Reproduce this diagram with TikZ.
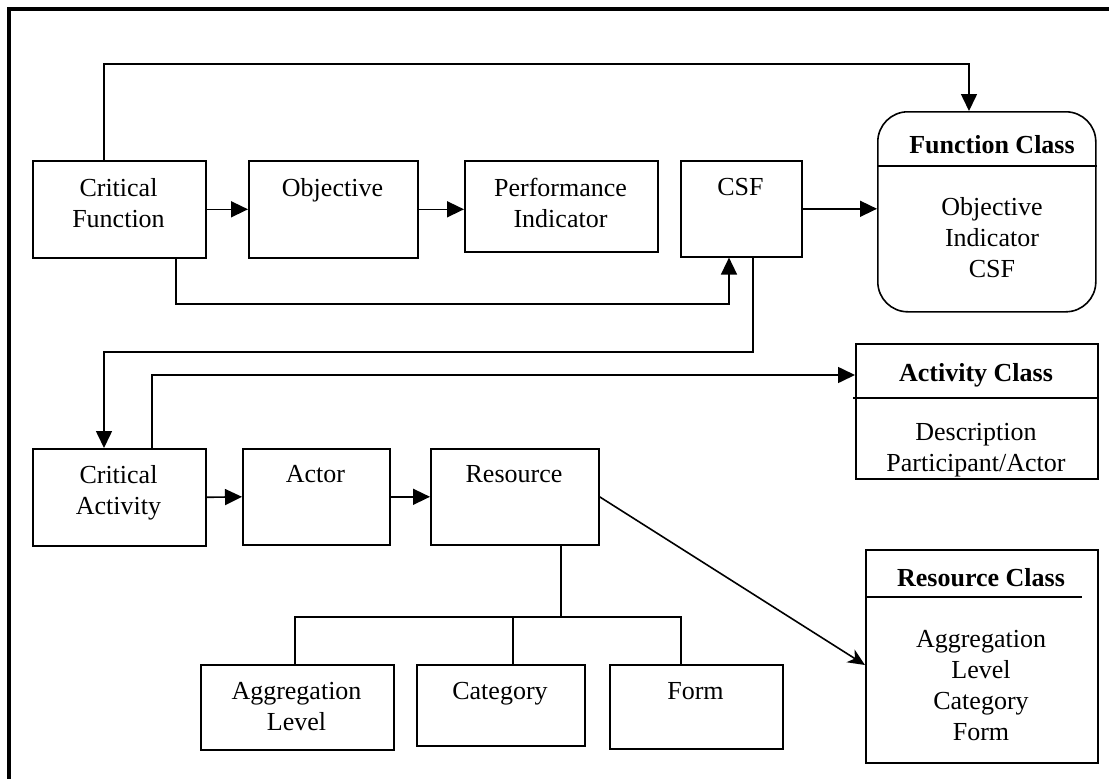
\documentclass[tikz,border=0pt]{standalone}
\usepackage{fontspec}
\setmainfont{Liberation Serif}
\usetikzlibrary{arrows.meta}
\begin{document}
\begin{tikzpicture}[x=1pt,y=-1pt,
  box/.style={draw, line width=1.6pt, inner sep=0pt, anchor=north west},
  rbox/.style={box, rounded corners=30pt},
  txt/.style={font=\fontsize{26}{31}\selectfont, align=center, inner sep=0pt, anchor=north},
  ttl/.style={font=\fontsize{26}{31}\selectfont\bfseries, inner sep=0pt, anchor=north},
  conn/.style={line width=1.6pt},
  arr/.style={conn, -{Triangle[length=17pt,width=16pt]}},
  darr/.style={conn, -{Stealth[length=17pt,width=15pt,inset=5pt]}}]
\useasboundingbox (0,0) rectangle (1109,779);
% frame
\draw[line width=4pt] (9,779) -- (9,9) -- (1109,9);

% boxes
\node[box, minimum width=173pt, minimum height=97pt] (cf) at (32,160) {};
\node[box, minimum width=169pt, minimum height=97pt] (obj) at (248,160) {};
\node[box, minimum width=193pt, minimum height=91pt] (pi) at (464,160) {};
\node[box, minimum width=121pt, minimum height=96pt] (csf) at (680,160) {};
\node[rbox, minimum width=218pt, minimum height=200pt] (fc) at (877,111) {};
\node[box, minimum width=173pt, minimum height=97pt] (ca) at (32,448) {};
\node[box, minimum width=147pt, minimum height=96pt] (act) at (242,448) {};
\node[box, minimum width=168pt, minimum height=96pt] (res) at (430,448) {};
\node[box, minimum width=242pt, minimum height=135pt] (ac) at (855,343) {};
\node[box, minimum width=193pt, minimum height=85pt] (agg) at (200,664) {};
\node[box, minimum width=168pt, minimum height=81pt] (cat) at (416,664) {};
\node[box, minimum width=173pt, minimum height=84pt] (form) at (609,664) {};
\node[box, minimum width=232pt, minimum height=213pt] (rc) at (865,549) {};

% texts
\node[txt] (tcf) at (118.5,178) {Critical\\Function};
\node[txt] (tobj) at (332.5,178) {Objective};
\node[txt] (tpi) at (560.5,178) {Performance\\Indicator};
\node[txt] (tcsf) at (740.5,178) {CSF};
\node[ttl] (tfc) at (992,135) {Function Class};
\node[txt] (bfc) at (992,197) {Objective\\Indicator\\CSF};
\node[txt] (tca) at (118.5,465) {Critical\\Activity};
\node[txt] (tact) at (315.5,465) {Actor};
\node[txt] (tres) at (514,465) {Resource};
\node[ttl] (tac) at (976,363) {Activity Class};
\node[txt] (bac) at (976,423) {Description\\Participant/Actor};
\node[txt] (tagg) at (296.5,682) {Aggregation\\Level};
\node[txt] (tcat) at (500,682) {Category};
\node[txt] (tform) at (695.5,682) {Form};
\node[ttl] (trc) at (981,568) {Resource Class};
\node[txt] (brc) at (981,630) {Aggregation\\Level\\Category\\Form};

% header separators
\coordinate (hfc) at (0,166);
\coordinate (hac) at (853,398);
\coordinate (hrc) at (1082,597);
\draw[conn] (fc.west |- hfc) -- (fc.east |- hfc);
\draw[conn] (hac) -- (ac.east |- hac);
\draw[conn] (rc.west |- hrc) -- (hrc);

% waypoints
\coordinate (k1) at (104,64);
\coordinate (k2) at (969,64);
\coordinate (k3) at (176,304);
\coordinate (k4) at (729,304);
\coordinate (k5) at (753,352);
\coordinate (k6) at (104,352);
\coordinate (k7) at (152,375);
\coordinate (k8) at (865,665);
\coordinate (k9) at (561,617);
\coordinate (b1) at (295,617);
\coordinate (b2) at (681,617);
\coordinate (b3) at (513,617);

% connectors, top row
\draw[arr] (cf.east) -- (obj.west);
\draw[arr] (obj.east) -- (obj.east -| pi.west);
\draw[arr] (csf.east) -- (csf.east -| fc.west);
\draw[arr] (cf.north -| k1) -- (k1) -- (k2) -- (k2 |- fc.north);
\draw[arr] (cf.south -| k3) -- (k3) -- (k4) -- (k4 |- csf.south);
\draw[arr] (csf.south -| k5) -- (k5) -- (k6) -- (k6 |- ca.north);
\draw[arr] (ca.north -| k7) -- (k7) -- (k7 -| ac.west);

% connectors, lower row
\draw[arr] (ca.east) -- (act.west);
\draw[arr] (act.east) -- (res.west);
\draw[darr] (res.east) -- (k8);
\draw[conn] (res.south -| k9) -- (k9);
\draw[conn] (b1 |- agg.north) -- (b1) -- (b2) -- (b2 |- form.north);
\draw[conn] (b3) -- (b3 |- cat.north);
\end{tikzpicture}
\end{document}
